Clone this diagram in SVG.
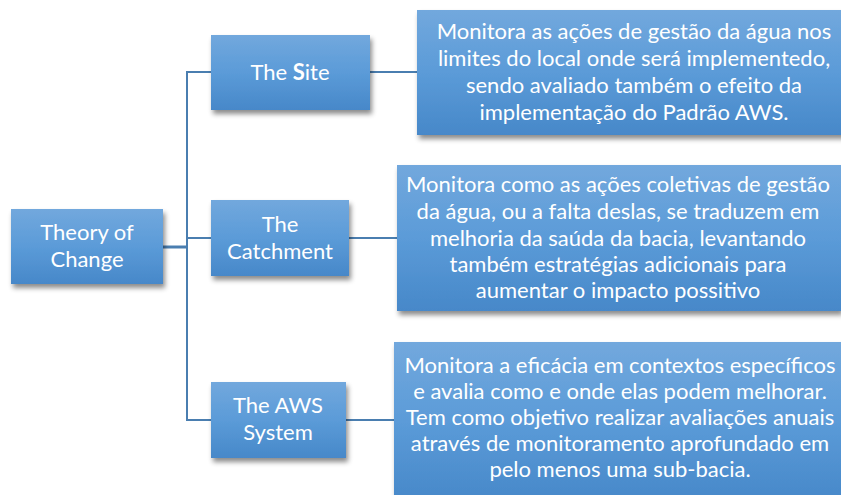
<svg xmlns="http://www.w3.org/2000/svg" width="841" height="495" viewBox="0 0 841 495">
<defs>
<linearGradient id="g" x1="0" y1="0" x2="0" y2="1">
<stop offset="0" stop-color="#72a8dd"/>
<stop offset="0.5" stop-color="#5b9bd8"/>
<stop offset="1" stop-color="#4788c9"/>
</linearGradient>
<filter id="sh" x="-10%" y="-10%" width="130%" height="140%">
<feDropShadow dx="2" dy="4" stdDeviation="2.5" flood-color="#000" flood-opacity="0.45"/>
</filter>
</defs>
<style>
.box{fill:url(#g);filter:url(#sh);}
.t{font-family:Lato,"Noto Sans",sans-serif;font-size:22px;fill:#fff;text-anchor:middle;}
.c{fill:none;stroke:#4a7eb0;stroke-width:2;}
</style>
<rect width="841" height="495" fill="#fff"/>
<g id="connectors">
<path class="c" d="M163 247H187"  style="stroke-width:3"/>
<path class="c" d="M211 72H187V420H211"/>
<path class="c" d="M187 238H211"/>
<path class="c" d="M370 72H417"/>
<path class="c" d="M349 238H397"/>
<path class="c" d="M346 420H394"/>
</g>
<g id="theory">
<rect class="box" x="11" y="209" width="152" height="75"/>
<text class="t" x="87" y="240">Theory of</text>
<text class="t" x="87" y="267">Change</text>
</g>
<g id="site">
<rect class="box" x="211" y="35" width="159" height="75"/>
<text class="t" x="290" y="80">The <tspan font-weight="bold">S</tspan>ite</text>
</g>
<g id="catchment">
<rect class="box" x="211" y="200" width="138" height="76"/>
<text class="t" x="280" y="232">The</text>
<text class="t" x="280" y="259">Catchment</text>
</g>
<g id="aws">
<rect class="box" x="211" y="382" width="135" height="76"/>
<text class="t" x="278" y="413">The AWS</text>
<text class="t" x="278" y="440">System</text>
</g>
<g id="site-desc">
<rect class="box" x="417" y="10" width="434" height="125"/>
<text class="t" x="634" y="39">Monitora as ações de gestão da água nos</text>
<text class="t" x="634" y="66">limites do local onde será implementedo,</text>
<text class="t" x="634" y="93">sendo avaliado também o efeito da</text>
<text class="t" x="634" y="120">implementação do Padrão AWS.</text>
</g>
<g id="catchment-desc">
<rect class="box" x="397" y="165" width="444" height="146"/>
<text class="t" x="618" y="192">Monitora como as ações coletivas de gestão</text>
<text class="t" x="618" y="219">da água, ou a falta deslas, se traduzem em</text>
<text class="t" x="618" y="246">melhoria da saúda da bacia, levantando</text>
<text class="t" x="618" y="272">também estratégias adicionais para</text>
<text class="t" x="618" y="298">aumentar o impacto possitivo</text>
</g>
<g id="aws-desc">
<rect class="box" x="394" y="342" width="450" height="160"/>
<text class="t" x="620" y="373">Monitora a eficácia em contextos específicos</text>
<text class="t" x="620" y="399">e avalia como e onde elas podem melhorar.</text>
<text class="t" x="620" y="425">Tem como objetivo realizar avaliações anuais</text>
<text class="t" x="620" y="451">através de monitoramento aprofundado em</text>
<text class="t" x="620" y="477">pelo menos uma sub-bacia.</text>
</g>
</svg>
